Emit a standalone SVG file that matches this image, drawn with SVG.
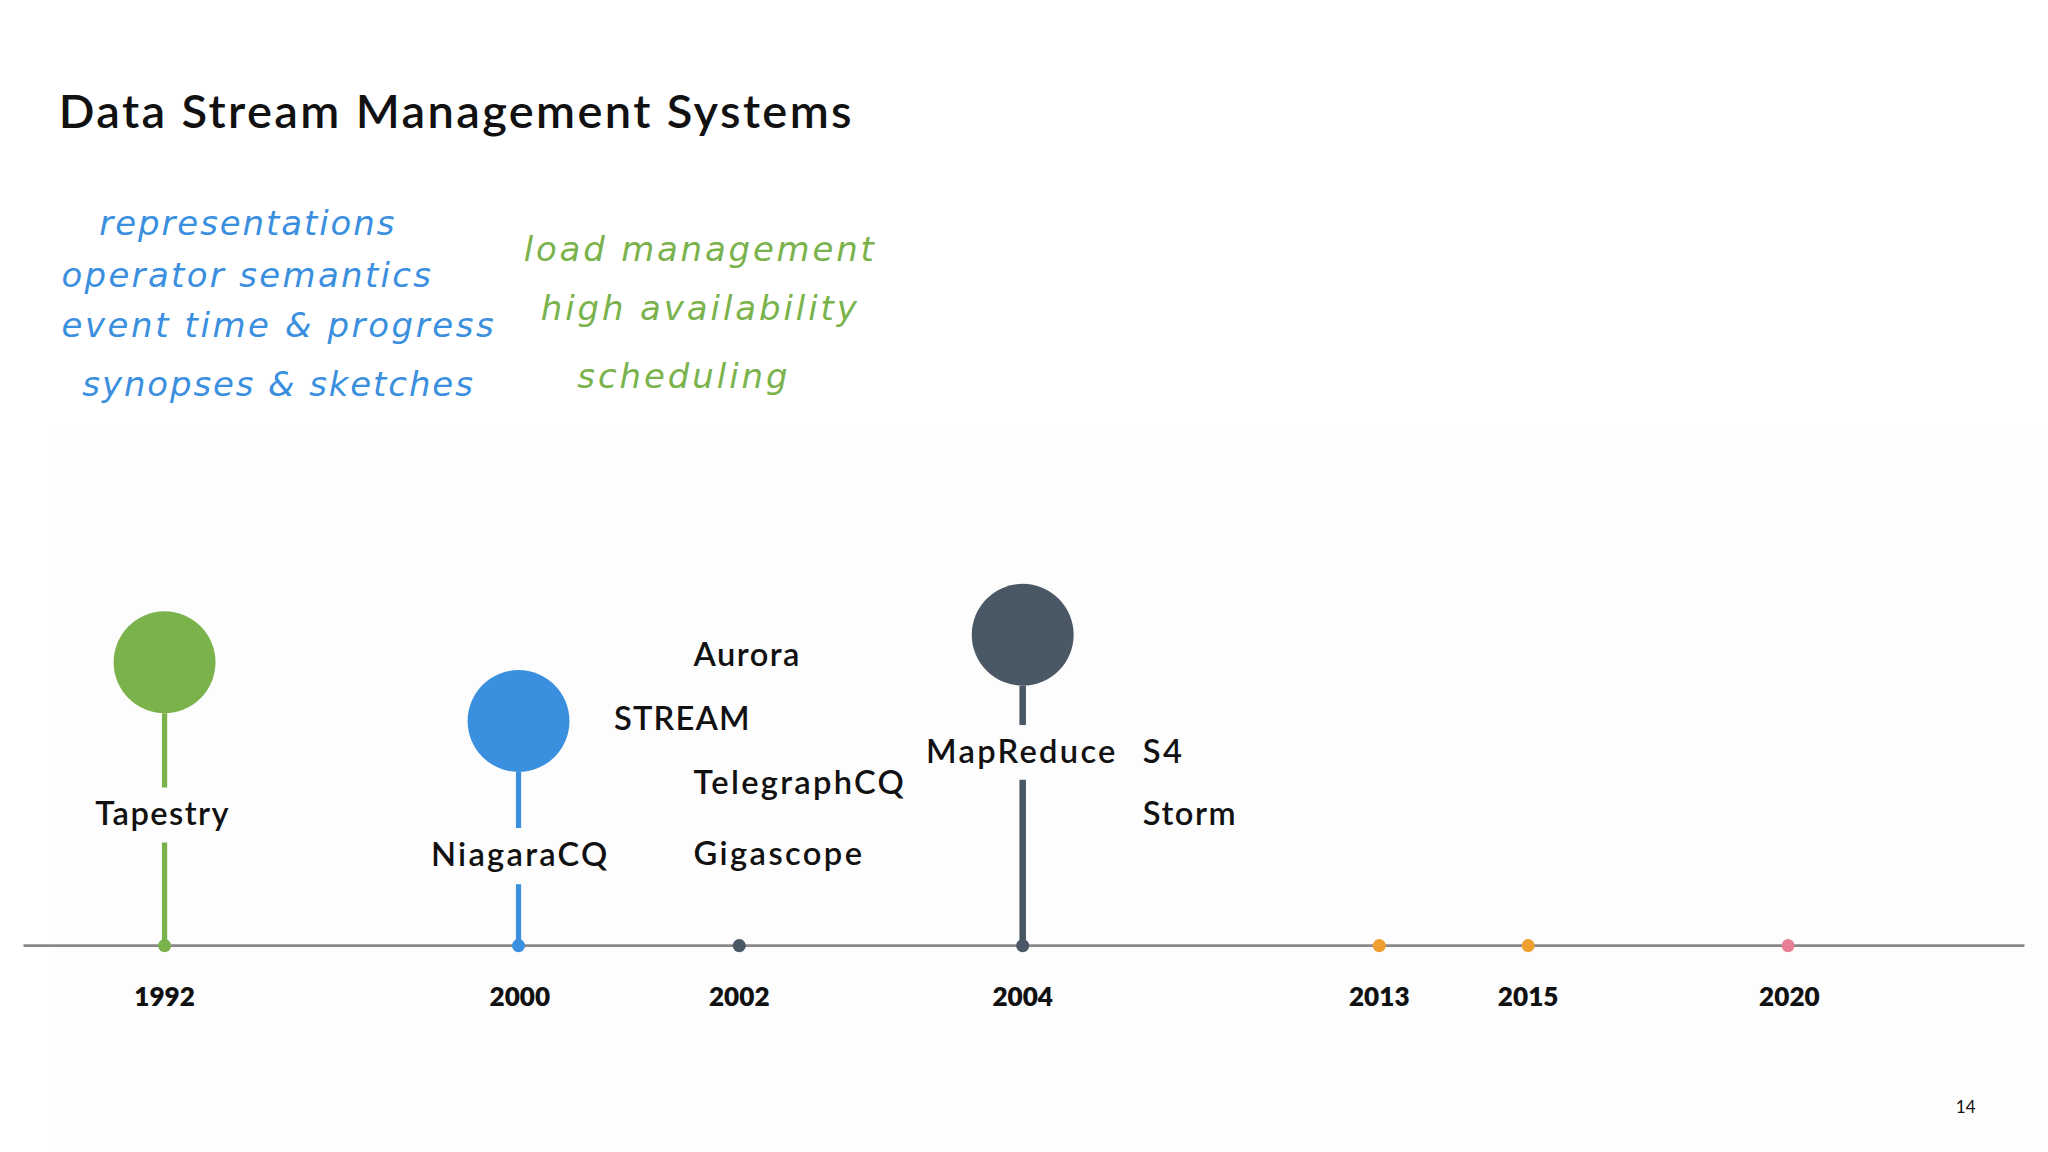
<svg xmlns="http://www.w3.org/2000/svg" width="2048" height="1152" viewBox="0 0 2048 1152">
<style>
.t{font-family:Lato,"Noto Sans",sans-serif;fill:#111}
.lb{font-size:25px;font-weight:600}
.yr{font-size:20px;font-weight:800;text-anchor:middle}
.hb{font-family:"DejaVu Sans",sans-serif;font-style:italic;font-size:26px;fill:#3a8fde}
.hg{font-family:"DejaVu Sans",sans-serif;font-style:italic;font-size:26px;fill:#7ab24c}
</style>
<rect width="2048" height="1152" fill="#fff"/>
<g transform="scale(1.30612)">
<rect x="38" y="330" width="1530" height="552" fill="#fdfdfd"/>
<text class="t" x="45" y="98" font-size="36" font-weight="600" textLength="607">Data Stream Management Systems</text>
<g id="notes-blue">
<text class="hb" x="76" y="180" textLength="226">representations</text>
<text class="hb" x="47" y="220" textLength="283">operator semantics</text>
<text class="hb" x="47" y="258" textLength="331">event time &amp; progress</text>
<text class="hb" x="63" y="303" textLength="299">synopses &amp; sketches</text>
</g>
<g id="notes-green">
<text class="hg" x="401" y="200" textLength="268">load management</text>
<text class="hg" x="414" y="245" textLength="242">high availability</text>
<text class="hg" x="442" y="297" textLength="161">scheduling</text>
</g>
<g id="connectors">
<line x1="18" y1="724" x2="1550" y2="724" stroke="#888" stroke-width="2"/>
<path d="M126 546V603M126 645V724" stroke="#7ab24c" stroke-width="4"/>
<path d="M397 591V634M397 677V724" stroke="#3a8fde" stroke-width="4"/>
<path d="M783 525V555M783 597V724" stroke="#4a5866" stroke-width="5"/>
</g>
<g id="tapestry"><circle cx="126" cy="507" r="39" fill="#7ab24c"/><circle cx="126" cy="724" r="5" fill="#7ab24c"/>
<text class="t lb" x="73" y="632" textLength="102">Tapestry</text><text class="t yr" x="126" y="770">1992</text></g>
<g id="niagara"><circle cx="397" cy="552" r="39" fill="#3a8fde"/><circle cx="397" cy="724" r="5" fill="#3a8fde"/>
<text class="t lb" x="330" y="663" textLength="135">NiagaraCQ</text><text class="t yr" x="398" y="770">2000</text></g>
<g id="y2002"><circle cx="566" cy="724" r="5" fill="#4a5866"/><text class="t yr" x="566" y="770">2002</text>
<text class="t lb" x="531" y="510" textLength="81">Aurora</text><text class="t lb" x="470" y="559" textLength="104">STREAM</text>
<text class="t lb" x="531" y="608" textLength="161">TelegraphCQ</text><text class="t lb" x="531" y="662" textLength="129">Gigascope</text></g>
<g id="mapreduce"><circle cx="783" cy="486" r="39" fill="#4a5866"/><circle cx="783" cy="724" r="5" fill="#4a5866"/>
<text class="t lb" x="709" y="584" textLength="145">MapReduce</text><text class="t yr" x="783" y="770">2004</text>
<text class="t lb" x="875" y="584" textLength="30">S4</text><text class="t lb" x="875" y="632" textLength="71">Storm</text></g>
<g id="y2013"><circle cx="1056" cy="724" r="5" fill="#f0a030"/><text class="t yr" x="1056" y="770">2013</text></g>
<g id="y2015"><circle cx="1170" cy="724" r="5" fill="#f0a030"/><text class="t yr" x="1170" y="770">2015</text></g>
<g id="y2020"><circle cx="1369" cy="724" r="5" fill="#e87e96"/><text class="t yr" x="1370" y="770">2020</text></g>
<text class="t" x="1505" y="852" font-size="13" text-anchor="middle">14</text>
</g>
</svg>
